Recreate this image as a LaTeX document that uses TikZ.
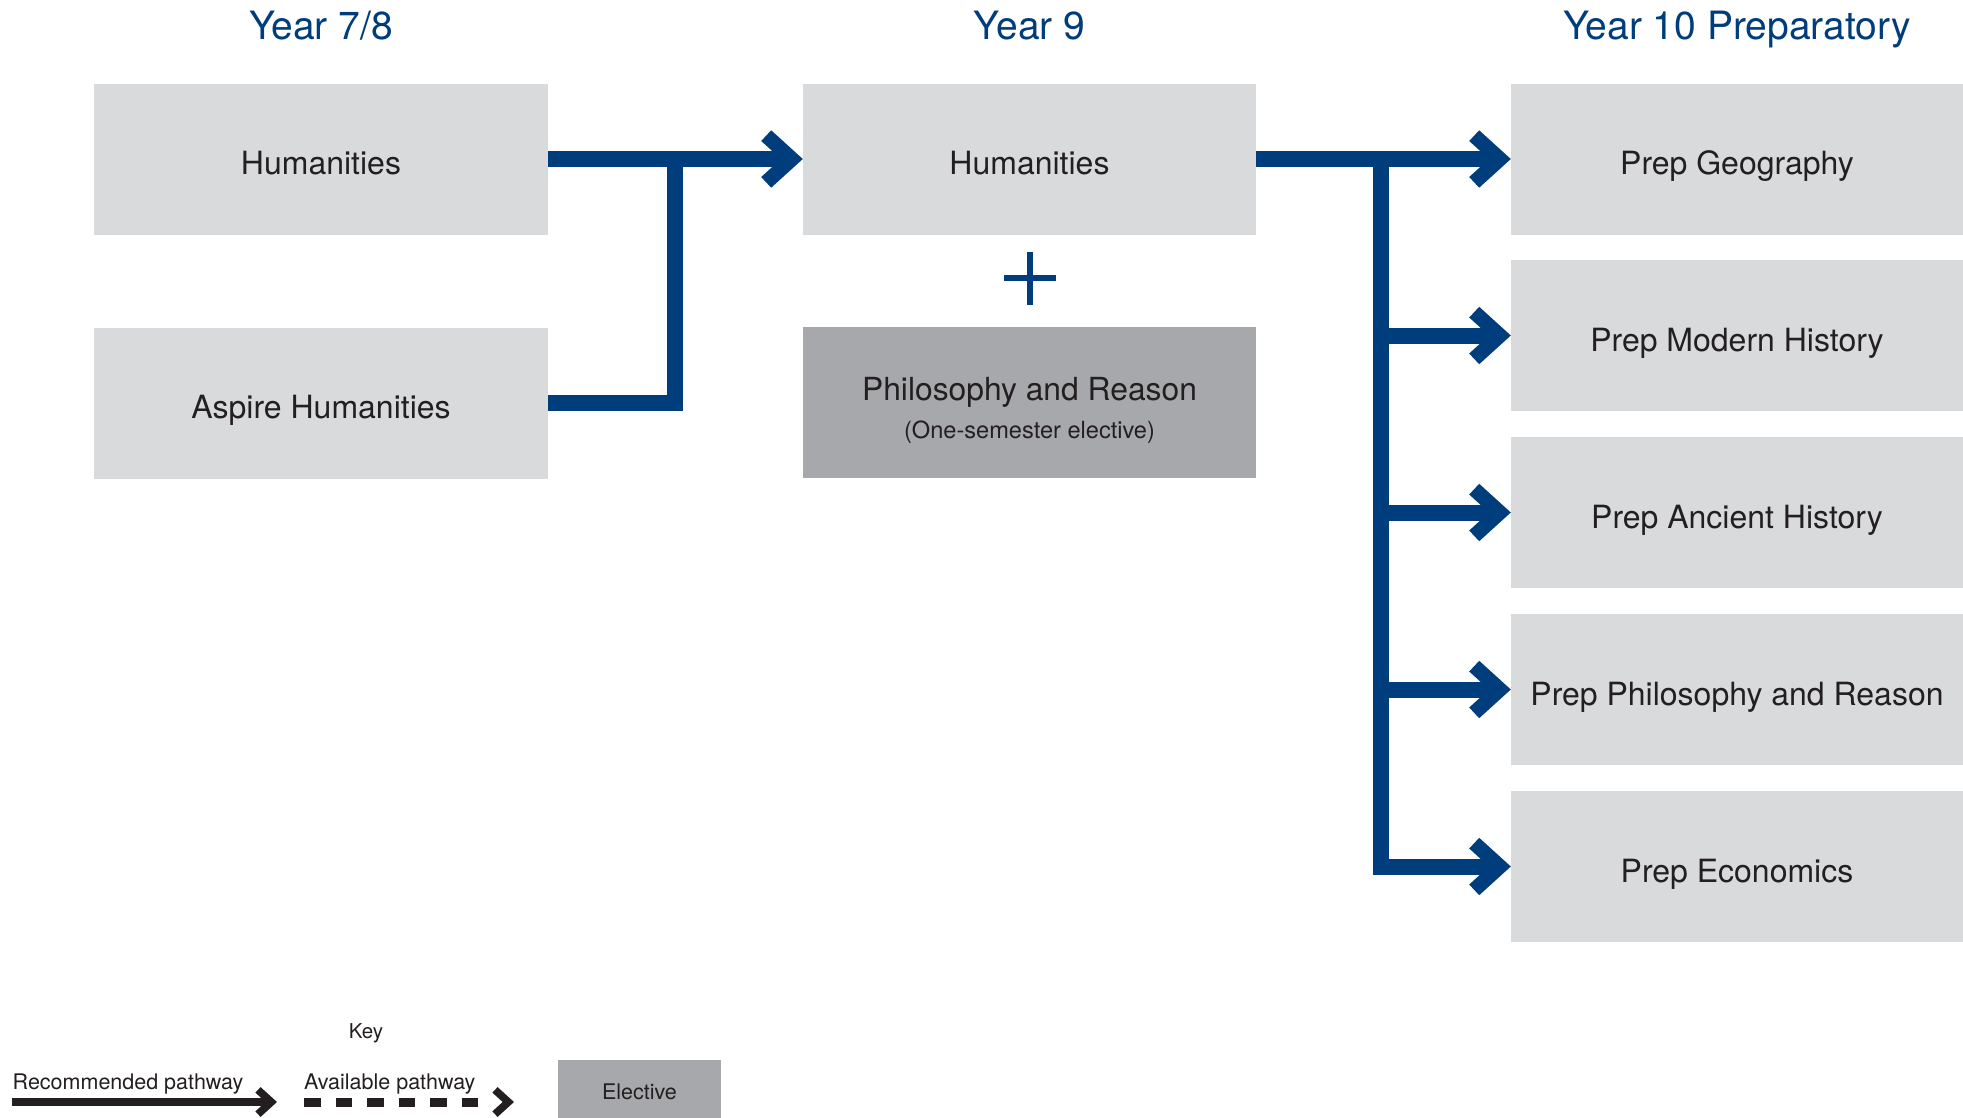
\documentclass[tikz,border=0pt]{standalone}
\usepackage{fontspec}
\setmainfont{TeX Gyre Heros}
\definecolor{navy}{HTML}{003D7C}
\definecolor{boxgray}{HTML}{D9DADC}
\definecolor{elgray}{HTML}{A7A8AB}
\definecolor{txt}{HTML}{231F20}
\begin{document}
\begin{tikzpicture}[x=1pt,y=-1pt,
  box/.style={fill=boxgray, minimum width=453pt, minimum height=151pt, inner sep=0pt,
    text=txt, font=\fontsize{32}{38}\selectfont, text height=31pt, text depth=0pt},
  elbox/.style={box, fill=elgray},
  hdr/.style={text=navy, font=\fontsize{39}{46}\selectfont, anchor=base, inner sep=0pt},
  ptxt/.style={text=txt, anchor=base, inner sep=0pt},
  keytxt/.style={text=txt, anchor=base west, inner sep=0pt, font=\fontsize{21.5}{26}\selectfont},
  conn/.style={draw=navy, line width=16pt, line join=miter},
  keyline/.style={draw=txt, line width=8.5pt},
  keydash/.style={draw=txt, line width=9pt, dash pattern=on 16.5pt off 15pt},
  pics/chev/.style={code={\fill[#1] (0,0) -- (-31.6,-28.7) -- (-41.6,-18) -- (-21.8,0)
      -- (-41.6,18) -- (-31.6,28.7) -- cycle;}}
]
\useasboundingbox (0,0) rectangle (1963,1117);
\fill[white] (0,0) rectangle (1963,1117);

% headers
\node[hdr] (t1) at (321,39) {Year 7/8};
\node[hdr] (t2) at (1029.5,39) {Year 9};
\node[hdr] (t3) at (1737,39) {Year 10 Preparatory};

% column 1
\node[box, minimum width=454pt] (h78) at (321,159) {Humanities};
\node[box, minimum width=454pt] (asp) at (321,403) {Aspire Humanities};

% column 2
\node[box] (h9) at (1029.5,159) {Humanities};
\node[elbox] (phil) at (1029.5,402.5) {};
\node[ptxt, font=\fontsize{31.8}{38}\selectfont] (phil1) at (1029.5,400) {Philosophy and Reason};
\node[ptxt, font=\fontsize{23.6}{28}\selectfont] (phil2) at (1029.5,438) {(One-semester elective)};
\draw[navy, line width=5.5pt] (1004,278) -- (1056,278) (1030,251.5) -- (1030,304.5);

% column 3
\node[box, minimum width=452pt] (geo) at (1737,159) {Prep Geography};
\node[box, minimum width=452pt] (mod) at (1737,335.5) {Prep Modern History};
\node[box, minimum width=452pt] (anc) at (1737,512.5) {Prep Ancient History};
\node[box, minimum width=452pt] (ppr) at (1737,689.5) {Prep Philosophy and Reason};
\node[box, minimum width=452pt] (eco) at (1737,866.5) {Prep Economics};

% connectors left
\coordinate (j1) at (675,159);
\draw[conn, shorten >=20pt] (h78.east) -- (h9.west);
\draw[conn] (asp.east) -| (j1);
\pic at (h9.west) {chev=navy};

% connectors right
\coordinate (bus) at (1380.5,159);
\draw[conn, shorten >=20pt] (h9.east) -- (geo.west);
\draw[conn, shorten >=20pt] (bus) |- (eco.west);
\draw[conn, shorten >=20pt] (bus |- mod.west) -- (mod.west);
\draw[conn, shorten >=20pt] (bus |- anc.west) -- (anc.west);
\draw[conn, shorten >=20pt] (bus |- ppr.west) -- (ppr.west);
\pic at (geo.west) {chev=navy};
\pic at (mod.west) {chev=navy};
\pic at (anc.west) {chev=navy};
\pic at (ppr.west) {chev=navy};
\pic at (eco.west) {chev=navy};

% key
\node[text=txt, inner sep=0pt, font=\fontsize{20.5}{24}\selectfont] (key) at (366,1033) {Key};
\node[keytxt] (rec) at (12.5,1089.5) {Recommended pathway};
\node[keytxt] (ava) at (304,1089.5) {Available pathway};
\coordinate (r0) at (12,1102);
\coordinate (r1) at (277,1102);
\draw[keyline, shorten >=10pt] (r0) -- (r1);
\pic[scale=0.52] at (r1) {chev=txt};
\coordinate (a0) at (304,1102);
\coordinate (a1) at (478,1102);
\coordinate (a2) at (514,1102);
\draw[keydash] (a0) -- (a1);
\pic[scale=0.52] at (a2) {chev=txt};
\node[elbox, minimum width=163pt, minimum height=64pt, font=\fontsize{21.5}{26}\selectfont,
  text height=15pt] (el) at (639.5,1092) {Elective};
\end{tikzpicture}
\end{document}
